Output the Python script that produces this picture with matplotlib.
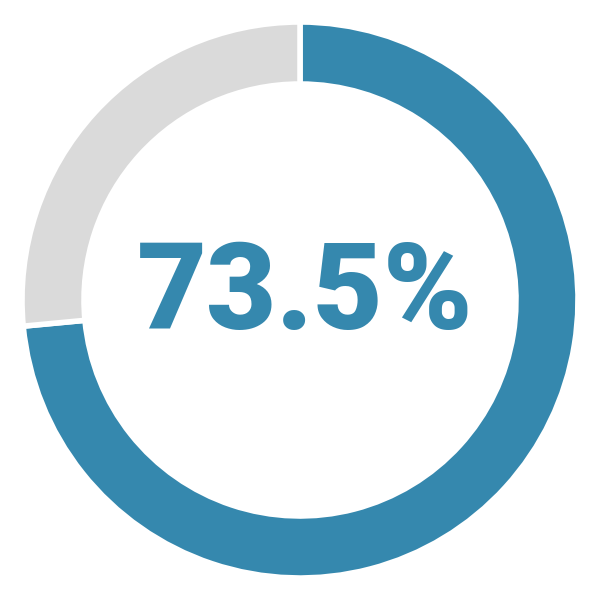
import matplotlib
matplotlib.use("Agg")
import matplotlib.pyplot as plt

# donut values
labels = ["done", "rest"]
values = [73.5, 26.5]
colors = ["#3588AE", "#DADADA"]
center_text = "73.5%"


def main():
    fig = plt.figure(figsize=(6, 6), dpi=100)
    ax = fig.add_axes([0, 0, 1, 1])

    ax.pie(values, colors=colors, startangle=90, counterclock=False,
           radius=278 / 300, wedgeprops=dict(width=62 / 300, edgecolor="white", linewidth=4))

    ax.text(0.017, 0.01, center_text, ha="center", va="center", color=colors[0],
            fontsize=87, fontweight="heavy", family=["Roboto", "DejaVu Sans"])

    ax.set_xlim(-1, 1)
    ax.set_ylim(-1, 1)
    ax.set_aspect("equal")
    ax.axis("off")

    fig.savefig("out.png", dpi=100, facecolor="white")


if __name__ == '__main__':
    main()
